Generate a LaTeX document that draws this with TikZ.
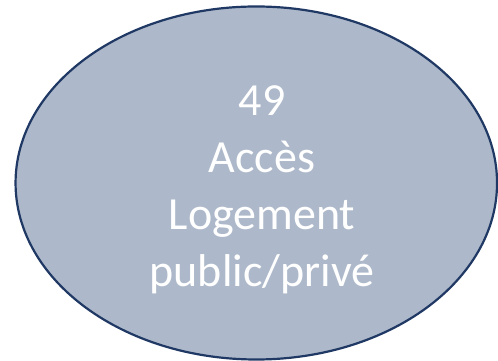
\documentclass[tikz,border=0pt]{standalone}
\usepackage{fontspec}
\setmainfont{Carlito}
\definecolor{bluegray}{HTML}{ADB9CA}
\definecolor{navyline}{HTML}{1F3864}
\usetikzlibrary{shapes.geometric}

\begin{document}
\begin{tikzpicture}[x=1pt,y=1pt]
    \useasboundingbox (0,0) rectangle (498,361);
    % bubble
    \node[ellipse, draw=navyline, line width=2.2pt, fill=bluegray,
          minimum width=481.5pt, minimum height=353pt, inner sep=0pt]
          (bubble) at (256.3,178) {};
    % label
    \node[text=white, align=center, inner sep=0pt,
          font=\fontsize{46}{57}\selectfont]
          (label) at (262,171.5) {49\\Accès\\Logement\\public/privé};
  \end{tikzpicture}
\end{document}
